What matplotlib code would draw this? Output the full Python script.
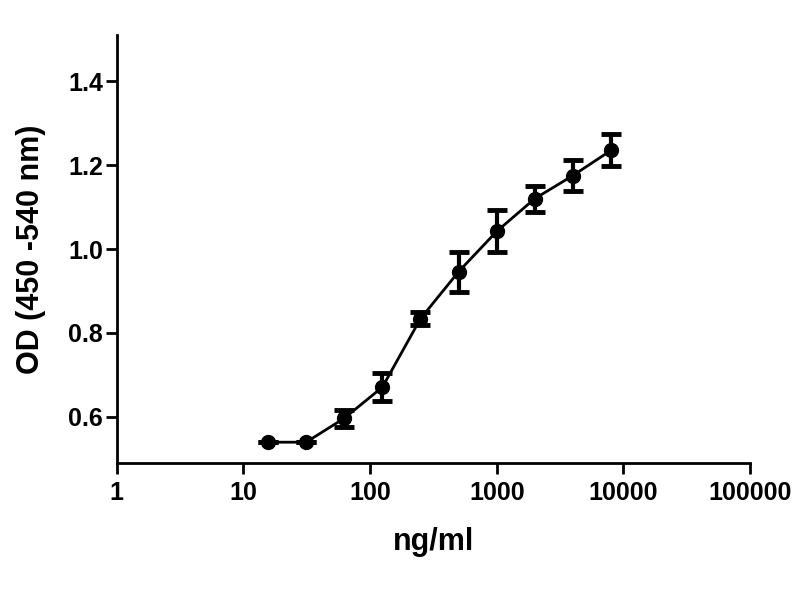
import matplotlib
matplotlib.use("Agg")
import matplotlib.pyplot as plt

conc = [15.625, 31.25, 62.5, 125, 250, 500, 1000, 2000, 4000, 8000]
od = [0.540, 0.540, 0.597, 0.671, 0.834, 0.946, 1.042, 1.120, 1.175, 1.235]
err = [0.0, 0.0, 0.020, 0.033, 0.015, 0.048, 0.050, 0.031, 0.036, 0.038]
xticks = [1, 10, 100, 1000, 10000, 100000]
xticklabels = ["1", "10", "100", "1000", "10000", "100000"]
yticks = [0.6, 0.8, 1.0, 1.2, 1.4]
yticklabels = ["0.6", "0.8", "1.0", "1.2", "1.4"]

plt.rcParams['font.family'] = ['Liberation Sans', 'DejaVu Sans']
fig = plt.figure(figsize=(8, 6), dpi=100)
ax = fig.add_axes([0.146, 0.228, 0.7915, 0.714])

ax.plot(conc, od, color='black', lw=2)
ax.errorbar(conc, od, yerr=err, fmt='o', color='black', ms=10,
            capsize=7, capthick=3.5, elinewidth=3)

ax.set_xscale('log')
ax.set_xlim(1, 100000)
ax.set_ylim(0.49, 1.51)
ax.set_xticks(xticks)
ax.set_xticklabels(xticklabels)
ax.minorticks_off()
ax.set_yticks(yticks)
ax.set_yticklabels(yticklabels)

for s in ['top', 'right']:
    ax.spines[s].set_visible(False)
for s in ['left', 'bottom']:
    ax.spines[s].set_linewidth(2)
ax.tick_params(axis='both', width=2, length=8, labelsize=18, direction='out')
ax.tick_params(axis='y', pad=2)
ax.tick_params(axis='x', pad=5)
for lab in ax.get_xticklabels() + ax.get_yticklabels():
    lab.set_fontweight('bold')

ax.set_xlabel('ng/ml', fontsize=22, fontweight='bold', labelpad=16)
ax.set_ylabel('OD (450 -540 nm)', fontsize=22, fontweight='bold', labelpad=16)

fig.savefig('out.png', dpi=100)
